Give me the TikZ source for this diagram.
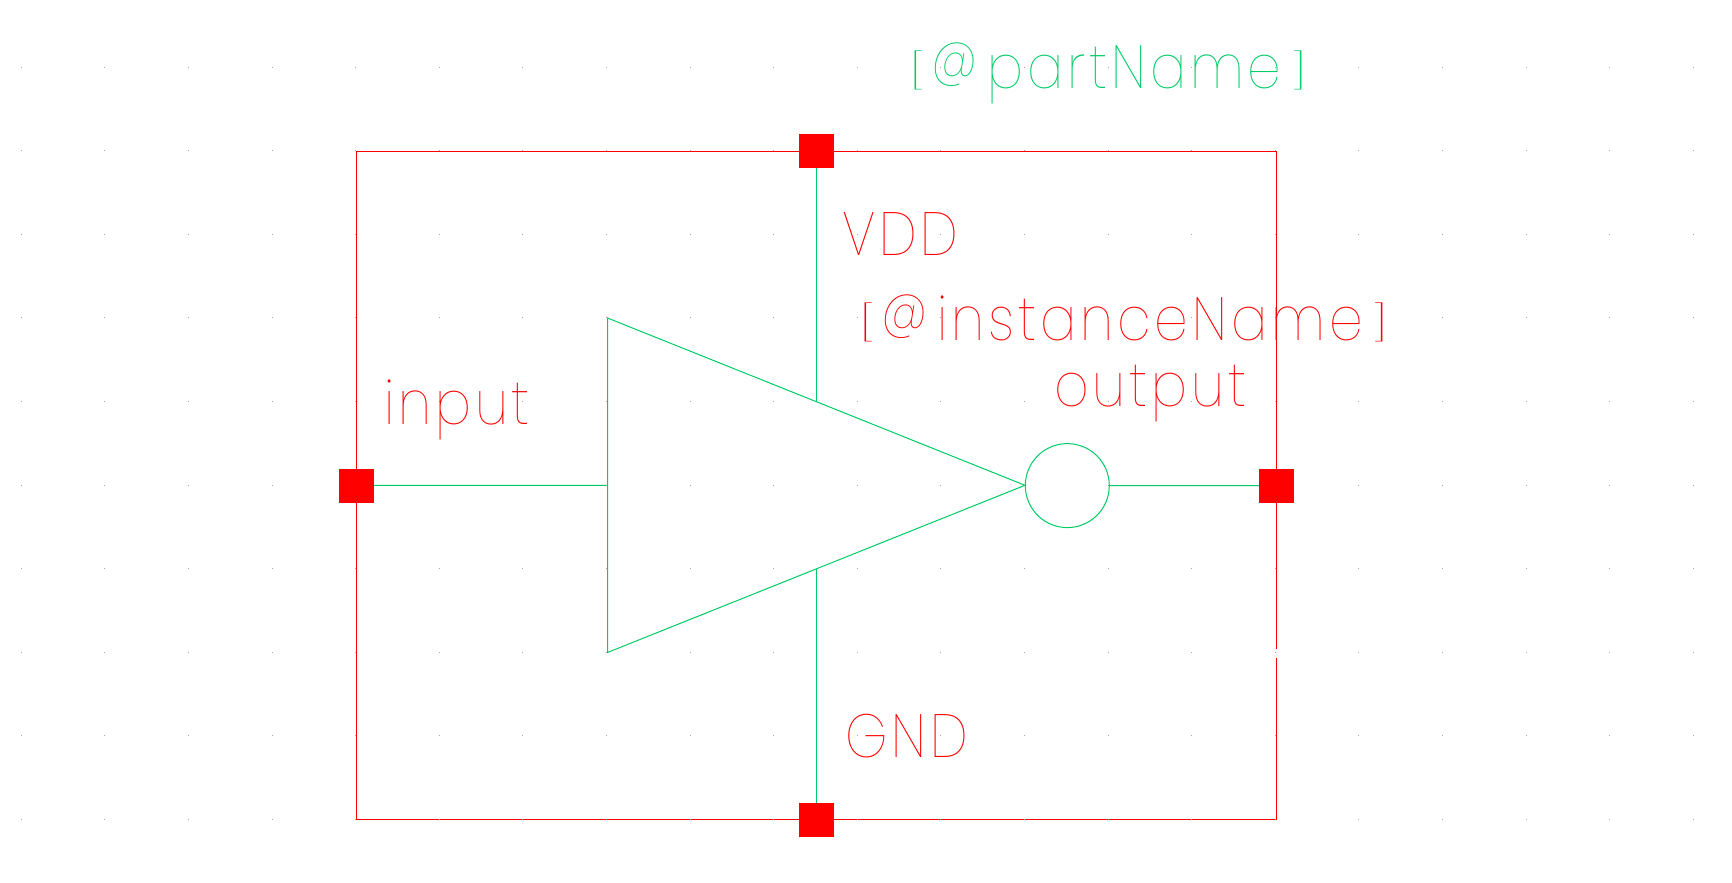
\documentclass[tikz,border=0pt]{standalone}
\usepackage{fontspec}
\setmainfont{Poppins}[UprightFont=* Thin]
\definecolor{symgreen}{RGB}{0,204,102}
\definecolor{symred}{RGB}{255,0,0}
\definecolor{griddot}{RGB}{165,165,175}
\newfontface\labfont{Poppins Thin}[LetterSpace=6.5,FakeStretch=0.88]
\newfontface\brfont{Poppins Thin}[FakeStretch=2.2]
\newcommand{\lopen}{\raisebox{5pt}{\brfont\fontsize{35}{35}\selectfont[}\hspace{6pt}}
\newcommand{\lclose}{\hspace{9pt}\raisebox{5pt}{\brfont\fontsize{35}{35}\selectfont]}}
\newcommand{\lat}{\raisebox{12pt}{\fontsize{54}{54}\selectfont @}\hspace{9pt}}
\tikzset{
  pin/.style={fill=symred,draw=none,minimum width=35pt,minimum height=34pt,inner sep=0pt,outer sep=0pt},
  redline/.style={draw=symred,line width=1pt},
  greenline/.style={draw=symgreen,line width=1pt},
  lab/.style={anchor=base west,inner sep=0pt,outer sep=0pt,font=\labfont\fontsize{61}{61}\selectfont},
  redlab/.style={lab,text=symred},
  greenlab/.style={lab,text=symgreen}
}
\begin{document}
\begin{tikzpicture}[x=1pt,y=-1pt]
\useasboundingbox (0,0) rectangle (1732,883);
\fill[white] (0,0) rectangle (1732,883);
% frame
\coordinate (tl) at (356.5,151.3);
\coordinate (tr) at (1276.4,151.3);
\coordinate (bl) at (356.5,819.6);
\coordinate (br) at (1276.4,819.6);
\coordinate (gapa) at (1276.4,648.7);
\coordinate (gapb) at (1276.4,658);
\draw[redline] (gapa) -- (tr) -- (tl) -- (bl) -- (br) -- (gapb);
% grid
\foreach \i in {0,...,20}\foreach \j in {0,...,9}
  \fill[griddot] ({21.3+83.6*\i-0.5},{67.3+83.55*\j-0.5}) rectangle ++(1,1);
% symbol
\coordinate (t1) at (607.5,318);
\coordinate (t2) at (607.5,652.5);
\coordinate (tip) at (1025,485.3);
\coordinate (tvdd) at (816.3,401.7);
\coordinate (tgnd) at (816.3,568.9);
\coordinate (tin) at (607.5,485.3);
\node[circle,greenline,minimum size=84pt,inner sep=0pt,outer sep=0pt] (bub) at (1067.3,485.6) {};
\draw[greenline,line join=miter] (t1) -- (tip) -- (t2) -- cycle;
% pins
\node[pin] (pvdd) at (816.3,151.3) {};
\node[pin] (pgnd) at (816.3,819.6) {};
\node[pin] (pin1) at (356.5,485.5) {};
\node[pin] (pout) at (1276.4,485.5) {};
\draw[greenline] (pvdd) -- (tvdd);
\draw[greenline] (pgnd) -- (tgnd);
\draw[greenline] (pin1) -- (tin);
\draw[greenline] (bub) -- (pout);
% labels
\node[greenlab] (partname) at (908,88.7) {\lopen\lat partName\lclose};
\node[redlab] (vdd) at (842,255.7) {VDD};
\node[redlab] (inst) at (858,340.7) {\lopen\lat instanceName\lclose};
\node[redlab] (outl) at (1054,406.7) {output};
\node[redlab] (inl) at (384,424.3) {input};
\node[redlab] (gnd) at (845,757.7) {GND};
\end{tikzpicture}
\end{document}
